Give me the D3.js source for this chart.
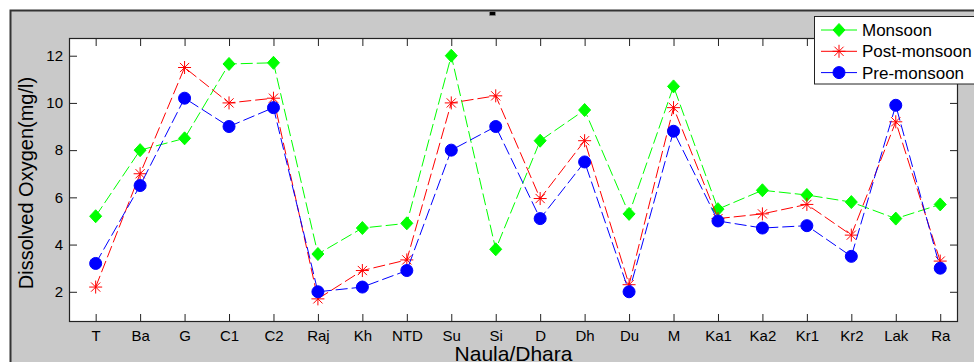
<!DOCTYPE html>
<html>
<head>
<meta charset="utf-8">
<script src="https://cdn.jsdelivr.net/npm/d3@7"></script>
<style>
  html, body { margin: 0; padding: 0; background: #fff; }
  svg { display: block; font-family: "Liberation Sans", Arial, sans-serif; }
  .axis text { font-size: 15px; fill: #000; }
  .axis line { stroke: #222; }
  .axis .domain { display: none; }
</style>
</head>
<body>
<svg id="chart" width="974" height="362"></svg>
<script>
// sampling sites
var categories = ["T", "Ba", "G", "C1", "C2", "Raj", "Kh", "NTD", "Su", "Si",
  "D", "Dh", "Du", "M", "Ka1", "Ka2", "Kr1", "Kr2", "Lak", "Ra"]

// dissolved oxygen, mg/l
var monsoon = [5.2, 8.0, 8.5, 11.65, 11.7, 3.6, 4.7, 4.9, 12.0, 3.8,
  8.4, 9.7, 5.3, 10.7, 5.5, 6.3, 6.1, 5.8, 5.1, 5.7]
var postMonsoon = [2.2, 7.0, 11.5, 10.0, 10.2, 1.7, 2.9, 3.35, 10.0, 10.3,
  5.95, 8.4, 2.3, 9.8, 5.1, 5.3, 5.7, 4.4, 9.2, 3.3]
var preMonsoon = [3.2, 6.5, 10.2, 9.0, 9.8, 2.0, 2.2, 2.9, 8.0, 9.0,
  5.1, 7.5, 2.0, 8.8, 5.0, 4.7, 4.8, 3.5, 9.9, 3.0]

var yTicks = [2, 4, 6, 8, 10, 12]
var seriesNames = ["Monsoon", "Post-monsoon", "Pre-monsoon"]

var series = [
  { name: seriesNames[0], values: monsoon, color: "#00ff00", marker: "diamond" },
  { name: seriesNames[1], values: postMonsoon, color: "#ff0000", marker: "star" },
  { name: seriesNames[2], values: preMonsoon, color: "#0000ff", marker: "circle" }
]

var svg = d3.select("#chart")

var plot = { left: 69, top: 38, right: 958, bottom: 322 }
var tick = 8

// figure background
svg.append("rect").attr("x", 10).attr("y", 10).attr("width", 964).attr("height", 352)
  .attr("fill", "#c9c9c9")
svg.append("path").attr("d", "M10.5,362V10.5H974")
  .attr("fill", "none").attr("stroke", "#333").attr("stroke-width", 2)
svg.append("rect").attr("x", 489.5).attr("y", 11.5).attr("width", 6).attr("height", 4)
  .attr("fill", "#000").attr("stroke", "#888").attr("stroke-width", 0.6)

// axes area
svg.append("rect")
  .attr("x", plot.left).attr("y", plot.top)
  .attr("width", plot.right - plot.left).attr("height", plot.bottom - plot.top)
  .attr("fill", "#fff")

var x = d3.scaleLinear().domain([-0.6, 19.4]).range([plot.left, plot.right])
var y = d3.scaleLinear().domain([0.72, 12.75]).range([plot.bottom, plot.top])
var idx = d3.range(categories.length)

svg.append("g").attr("class", "axis")
  .attr("transform", "translate(0," + plot.bottom + ")")
  .call(d3.axisBottom(x).tickValues(idx).tickFormat(function (i) { return categories[i] })
    .tickSizeInner(-tick).tickSizeOuter(0).tickPadding(8))

svg.append("g").attr("class", "axis")
  .attr("transform", "translate(0," + plot.top + ")")
  .call(d3.axisTop(x).tickValues(idx).tickFormat("").tickSizeInner(-tick).tickSizeOuter(0))

svg.append("g").attr("class", "axis")
  .attr("transform", "translate(" + plot.left + ",0)")
  .call(d3.axisLeft(y).tickValues(yTicks).tickFormat(d3.format("d"))
    .tickSizeInner(-tick).tickSizeOuter(0).tickPadding(6))

svg.append("g").attr("class", "axis")
  .attr("transform", "translate(" + plot.right + ",0)")
  .call(d3.axisRight(y).tickValues(yTicks).tickFormat("").tickSizeInner(-tick).tickSizeOuter(0))

svg.append("rect")
  .attr("x", plot.left + 0.5).attr("y", plot.top + 0.5)
  .attr("width", plot.right - plot.left - 1).attr("height", plot.bottom - plot.top - 1)
  .attr("fill", "none").attr("stroke", "#222").attr("stroke-width", 1.2)

// axis titles
svg.append("text")
  .attr("x", (plot.left + plot.right) / 2).attr("y", 361)
  .attr("text-anchor", "middle").attr("font-size", 21)
  .text("Naula/Dhara")

svg.append("text")
  .attr("transform", "translate(33," + ((plot.top + plot.bottom) / 2 + 3) + ") rotate(-90)")
  .attr("text-anchor", "middle").attr("font-size", 20)
  .text("Dissolved Oxygen(mg/l)")

function drawMarker(sel, type, color) {
  if (type === "diamond") {
    sel.append("path").attr("d", "M0,-6.5L6,0L0,6.5L-6,0Z").attr("fill", color).attr("stroke", color)
  } else if (type === "circle") {
    sel.append("circle").attr("r", 6).attr("fill", color).attr("stroke", color)
  } else {
    sel.append("path")
      .attr("d", "M-6.5,0H6.5M0,-6.5V6.5M-4.6,-4.6L4.6,4.6M-4.6,4.6L4.6,-4.6")
      .attr("fill", "none").attr("stroke", color).attr("stroke-width", 1)
  }
}

var line = d3.line()
  .x(function (d, i) { return x(i) })
  .y(function (d) { return y(d) })

series.forEach(function (s) {
  var g = svg.append("g")
  g.append("path")
    .attr("d", line(s.values))
    .attr("fill", "none")
    .attr("stroke", s.color)
    .attr("stroke-width", 1)
    .attr("stroke-dasharray", "12,4")

  g.selectAll("g.mk")
    .data(s.values)
    .enter().append("g")
    .attr("class", "mk")
    .attr("transform", function (d, i) { return "translate(" + x(i) + "," + y(d) + ")" })
    .each(function () { drawMarker(d3.select(this), s.marker, s.color) })
})

// legend
var legend = svg.append("g")
legend.append("rect")
  .attr("x", 814.5).attr("y", 16.5).attr("width", 200).attr("height", 67.5)
  .attr("fill", "#fff").attr("stroke", "#222").attr("stroke-width", 1)

series.forEach(function (s, i) {
  var cy = 30 + i * 21.3
  var row = legend.append("g")
  row.append("line")
    .attr("x1", 821).attr("x2", 857).attr("y1", cy).attr("y2", cy)
    .attr("stroke", s.color).attr("stroke-width", 1)
  drawMarker(row.append("g").attr("transform", "translate(839," + cy + ")"), s.marker, s.color)
  row.append("text")
    .attr("x", 862).attr("y", cy + 6)
    .attr("font-size", 17)
    .text(s.name)
})
</script>
</body>
</html>
